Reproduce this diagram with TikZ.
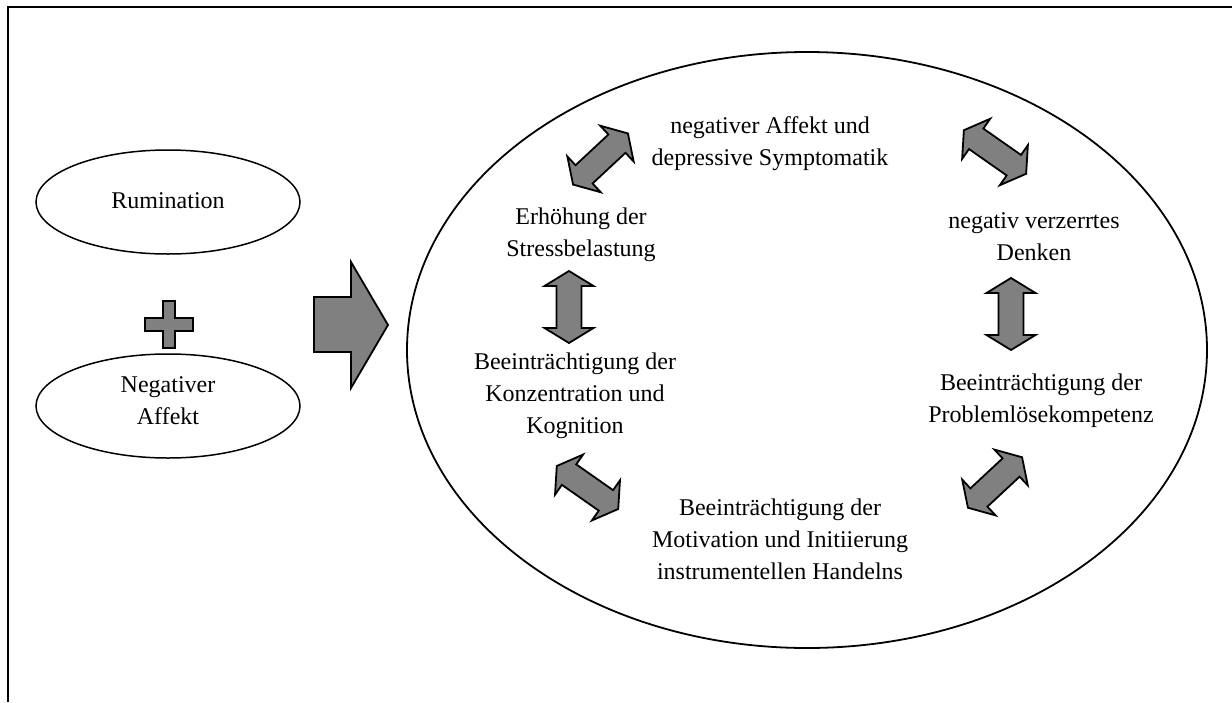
\documentclass[tikz,border=0pt]{standalone}
\usepackage{fontspec}
\setmainfont{Liberation Serif}
\usetikzlibrary{shapes.geometric}
\definecolor{arrowgray}{HTML}{808080}
\begin{document}
\begin{tikzpicture}[x=0.5pt,y=-0.5pt,
  lbl/.style={align=center,font=\fontsize{12}{16}\selectfont,inner sep=0pt},
  blockfill/.style={draw=black,line width=0.9pt,fill=arrowgray,line join=miter},
  smallell/.style={draw=black,line width=0.75pt,ellipse,minimum width=132pt,minimum height=52pt,inner sep=0pt},
  dbl/.pic={\path[blockfill] (-#1,0) -- ({-#1+15},24.5) -- ({-#1+15},12.5) -- ({#1-15},12.5) -- ({#1-15},24.5) -- (#1,0) -- ({#1-15},-24.5) -- ({#1-15},-12.5) -- ({-#1+15},-12.5) -- ({-#1+15},-24.5) -- cycle;}
]
\useasboundingbox (0,0) rectangle (1232,702);
% frame
\draw[line width=0.7pt] (8,702) -- (8,7) -- (1232,7);

% left ellipses
\node[smallell] (rum) at (168,202) {};
\node[lbl] (rumt) at (168,201) {Rumination};
\node[smallell] (neg) at (168,406) {};
\node[lbl] (negt) at (168,401) {Negativer\\Affekt};

% plus
\path[blockfill] (163,301) -- (175,301) -- (175,318) -- (193,318) -- (193,331) -- (175,331) -- (175,348) -- (163,348) -- (163,331) -- (145,331) -- (145,318) -- (163,318) -- cycle;

% big arrow
\path[blockfill] (314,297) -- (351,297) -- (351,262) -- (388,325) -- (351,388) -- (351,352) -- (314,352) -- cycle;

% main ellipse
\node[draw=black,line width=0.9pt,ellipse,minimum width=400pt,minimum height=298pt,inner sep=0pt] (cycle) at (807,350) {};

% texts
\node[lbl] (affekt) at (770,144) {negativer Affekt und\\depressive Symptomatik};
\node[lbl] (stress) at (581,235) {Erhöhung der\\Stressbelastung};
\node[lbl] (denken) at (1034,237) {negativ verzerrtes\\Denken};
\node[lbl] (konz) at (575,396) {Beeinträchtigung der\\Konzentration und\\Kognition};
\node[lbl] (problem) at (1041,401) {Beeinträchtigung der\\Problemlösekompetenz};
\node[lbl] (motiv) at (780,539) {Beeinträchtigung der\\Motivation und Initiierung\\instrumentellen Handelns};

% double arrows
\pic[rotate=43] at (600.5,159) {dbl=37.5};
\pic[rotate=-35] at (995,152) {dbl=38};
\pic[rotate=90] at (569,307) {dbl=36};
\pic[rotate=90] at (1011,314) {dbl=36};
\pic[rotate=-35] at (587.5,487.5) {dbl=37.5};
\pic[rotate=43] at (995,482.5) {dbl=37};
\end{tikzpicture}
\end{document}
